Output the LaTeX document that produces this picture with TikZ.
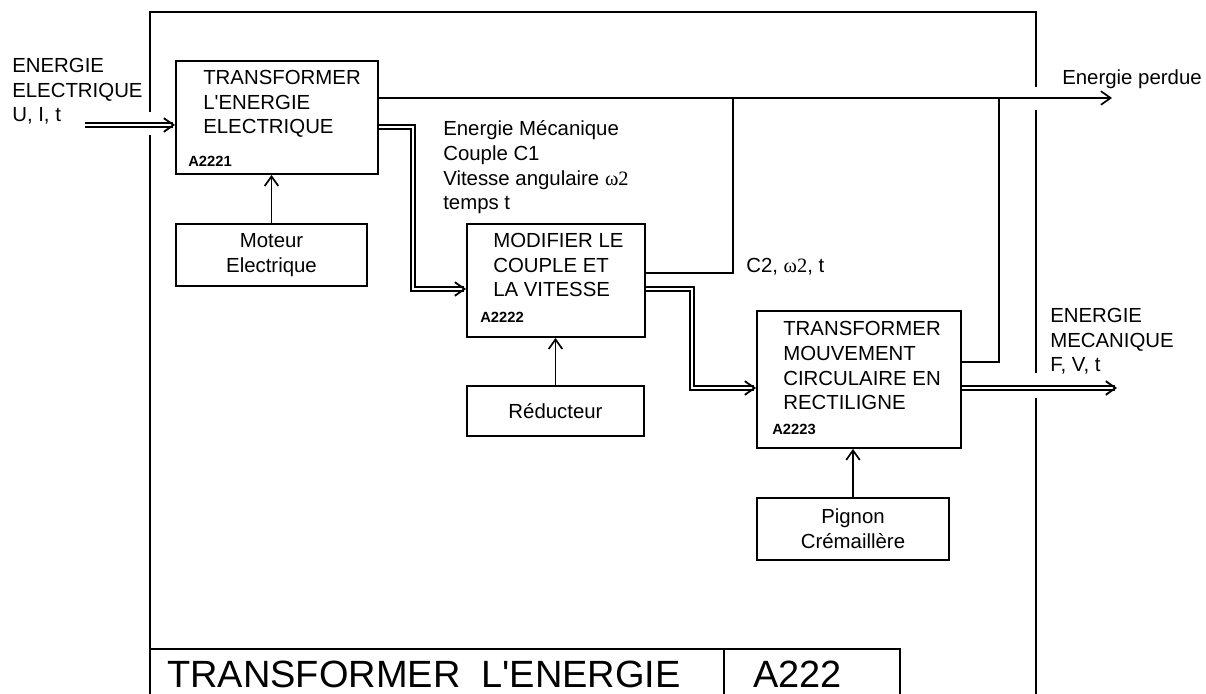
\documentclass[tikz,border=0pt]{standalone}
\usepackage{fontspec}
\setmainfont{Liberation Sans}
\newfontfamily\grfont{Liberation Serif}
\usetikzlibrary{arrows.meta, positioning}

\tikzset{
  blk/.style={draw, line width=1.3pt, inner sep=0pt},
  txt/.style={inner sep=0pt, align=left, anchor=base west,
              font=\fontsize{14.5}{17.6}\selectfont},
  code/.style={inner sep=0pt, anchor=base west,
               font=\fontsize{10.5}{12}\selectfont\bfseries},
  sig/.style={line width=1.2pt},
  dbl/.style={double, line width=1.3pt, double distance=1.6pt},
  frm/.style={line width=1.2pt},
  titre/.style={inner sep=0pt, anchor=base west,
                font=\fontsize{27}{29}\selectfont}
}

\begin{document}
\begin{tikzpicture}[x=0.025cm, y=-0.025cm,
    >={Straight Barb[length=2.4mm, width=3.4mm]}]
  \useasboundingbox (0,0) rectangle (1206,694);

  % cadre
  \draw[frm] (150,112) -- (150,12) -- (1036,12) -- (1036,87);
  \draw[frm] (150,135) -- (150,694);
  \draw[frm] (1036,110) -- (1036,373);
  \draw[frm] (1036,398) -- (1036,694);

  % cartouche
  \draw[frm] (150,649) -- (900,649) -- (900,694);
  \draw[frm] (724,649) -- (724,694);
  \node[titre] (tnom) at (167,688) {TRANSFORMER\ \ L\textquotesingle ENERGIE};
  \node[titre] (tref) at (753,688) {A222};

  % blocs
  \node[blk, minimum width=5.05cm, minimum height=2.825cm] (a1) at (277,117.5) {};
  \node[blk, minimum width=4.45cm, minimum height=2.825cm] (a2) at (556,280.5) {};
  \node[blk, minimum width=5.1cm, minimum height=3.425cm] (a3) at (859,379.5) {};
  \node[blk, minimum width=4.775cm, minimum height=1.55cm, align=center,
        font=\fontsize{14.5}{17.6}\selectfont] (mot) at (271.5,255) {Moteur\\Electrique};
  \node[blk, minimum width=4.425cm, minimum height=1.25cm,
        font=\fontsize{14.5}{17.6}\selectfont] (red) at (555.5,411) {Réducteur};
  \node[blk, minimum width=4.8cm, minimum height=1.55cm, align=center,
        font=\fontsize{14.5}{17.6}\selectfont] (pig) at (853,529) {Pignon\\Crémaillère};

  % textes des blocs (ancre sur la derniere ligne)
  \node[txt] (a1t) at (203,134) {TRANSFORMER\\L\textquotesingle ENERGIE\\ELECTRIQUE};
  \node[code] (a1c) at (188,167) {A2221};
  \node[txt] (a2t) at (493,297) {MODIFIER LE\\COUPLE ET\\LA VITESSE};
  \node[code] (a2c) at (480,323) {A2222};
  \node[txt] (a3t) at (783,410) {TRANSFORMER\\MOUVEMENT\\CIRCULAIRE EN\\RECTILIGNE};
  \node[code] (a3c) at (772,435) {A2223};

  % points libres
  \coordinate (ein) at (85,125);
  \coordinate (pout) at (1112,98);
  \coordinate (mout) at (1117,388);
  \coordinate (k1) at (413,127);
  \coordinate (k2) at (413,289);
  \coordinate (k3) at (692,289);
  \coordinate (k4) at (692,388);
  \coordinate (c2) at (733,273);
  \coordinate (c3) at (999,362);

  % flux
  \draw[dbl, ->] (ein) -- (a1.west |- ein);
  \draw[dbl, ->] (a1.east |- k1) -- (k1) -- (k2) -- (a2.west |- k2);
  \draw[dbl, ->] (a2.east |- k3) -- (k3) -- (k4) -- (a3.west |- k4);
  \draw[dbl, ->] (a3.east |- k4) -- (mout);
  \draw[sig, ->] (a1.east |- pout) -- (pout);
  \draw[sig] (a2.east |- c2) -- (c2) -- (c2 |- pout);
  \draw[sig] (a3.east |- c3) -- (c3) -- (c3 |- pout);
  \draw[sig, ->] (mot.north) -- (mot.north |- a1.south);
  \draw[sig, ->] (red.north) -- (red.north |- a2.south);
  \draw[sig, ->] (pig.north) -- (pig.north |- a3.south);

  % etiquettes
  \node[txt] (lin) at (12,122) {ENERGIE\\ELECTRIQUE\\U, I, t};
  \node[txt] (lmec) at (443,210) {Energie Mécanique\\Couple C1\\Vitesse angulaire {\grfont ω2}\\temps t};
  \node[txt] (lc2) at (746,273) {C2, {\grfont ω2}, t};
  \node[txt] (lper) at (1062,85) {Energie perdue};
  \node[txt] (lout) at (1050,372) {ENERGIE\\MECANIQUE\\F, V, t};
\end{tikzpicture}
\end{document}
